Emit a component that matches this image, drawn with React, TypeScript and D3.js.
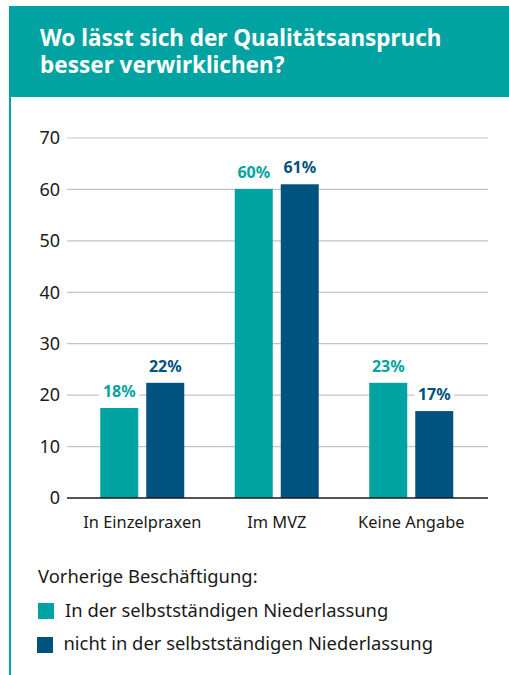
import React from "react";
import * as d3 from "d3";

const categories = ["In Einzelpraxen", "Im MVZ", "Keine Angabe"];
const seriesNames = [
  "In der selbstständigen Niederlassung",
  "nicht in der selbstständigen Niederlassung",
];
const seriesA = [17.5, 60.1, 22.4];
const seriesB = [22.4, 61.0, 16.9];
const labelsA = ["18%", "60%", "23%"];
const labelsB = ["22%", "61%", "17%"];
const yTicks = [0, 10, 20, 30, 40, 50, 60, 70];
const titleLines = ["Wo lässt sich der Qualitätsanspruch", "besser verwirklichen?"];
const legendTitle = "Vorherige Beschäftigung:";

const TEAL = "#00A3A1";
const BLUE = "#00527F";
const FONT = "'Noto Sans', sans-serif";

export default function App() {
  const W = 509;
  const H = 675;
  const plotLeft = 67;
  const plotRight = 488;
  const y = d3.scaleLinear().domain([0, 70]).range([498, 138]);
  const x0 = d3.scaleBand<string>().domain(categories).range([75, 478.5]);
  const groupW = 84;
  const x1 = d3
    .scaleBand<number>()
    .domain([0, 1])
    .range([x0.bandwidth() / 2 - groupW / 2, x0.bandwidth() / 2 + groupW / 2])
    .paddingInner(8 / 46);
  const series = [
    { values: seriesA, labels: labelsA, color: TEAL },
    { values: seriesB, labels: labelsB, color: BLUE },
  ];

  return (
    <svg
      width={W}
      height={H}
      style={{ position: "absolute", left: 0, top: 0, display: "block", background: "#fff" }}
      fontFamily={FONT}
    >
      {/* header */}
      <rect x={9} y={6} width={W - 9} height={91} fill={TEAL} />
      <line x1={10} x2={10} y1={96} y2={H} stroke={TEAL} strokeWidth={2} />
      {titleLines.map((t, i) => (
        <text key={i} x={40} y={46 + i * 27} fill="#fff" fontWeight={700} fontSize={22.5}>
          {t}
        </text>
      ))}

      {/* grid */}
      {yTicks.map((t) => (
        <g key={t}>
          {t !== 0 && (
            <line x1={plotLeft} x2={plotRight} y1={y(t)} y2={y(t)} stroke="#c4c4c4" strokeWidth={1.2} />
          )}
          <text x={60} y={y(t)} dy="0.35em" textAnchor="end" fontSize={18} fill="#1a1a1a">
            {t}
          </text>
        </g>
      ))}

      {/* bars */}
      {categories.map((c, ci) => (
        <g key={c} transform={`translate(${x0(c)},0)`}>
          {series.map((s, si) => (
            <rect
              key={si}
              x={x1(si)}
              y={y(s.values[ci])}
              width={x1.bandwidth()}
              height={y(0) - y(s.values[ci])}
              fill={s.color}
            />
          ))}
        </g>
      ))}
      <line x1={plotLeft} x2={plotRight} y1={y(0)} y2={y(0)} stroke="#1a1a1a" strokeWidth={1.5} />

      {/* value labels */}
      {categories.map((c, ci) => (
        <g key={c + "l"} transform={`translate(${x0(c)},0)`}>
          {series.map((s, si) => {
            const cx = (x1(si) as number) + x1.bandwidth() / 2;
            const by = y(s.values[ci]) - 11;
            return (
              <g key={si}>
                <rect x={cx - 20} y={by - 14} width={40} height={17} fill="#fff" />
                <text x={cx} y={by} textAnchor="middle" fontSize={16} fontWeight={700} fill={s.color}>
                  {s.labels[ci]}
                </text>
              </g>
            );
          })}
        </g>
      ))}

      {/* x labels */}
      {categories.map((c) => (
        <text
          key={c + "x"}
          x={(x0(c) as number) + x0.bandwidth() / 2}
          y={528}
          textAnchor="middle"
          fontSize={16.4}
          fill="#1a1a1a"
        >
          {c}
        </text>
      ))}

      {/* legend */}
      <text x={38} y={583} fontSize={18.4} fill="#1a1a1a">
        {legendTitle}
      </text>
      {seriesNames.map((n, i) => (
        <g key={n}>
          <rect x={38 - i} y={603 + i * 34} width={16} height={16} fill={series[i].color} />
          <text x={65 - i * 1.5} y={617 + i * 33} fontSize={18.4} fill="#1a1a1a">
            {n}
          </text>
        </g>
      ))}
    </svg>
  );
}
